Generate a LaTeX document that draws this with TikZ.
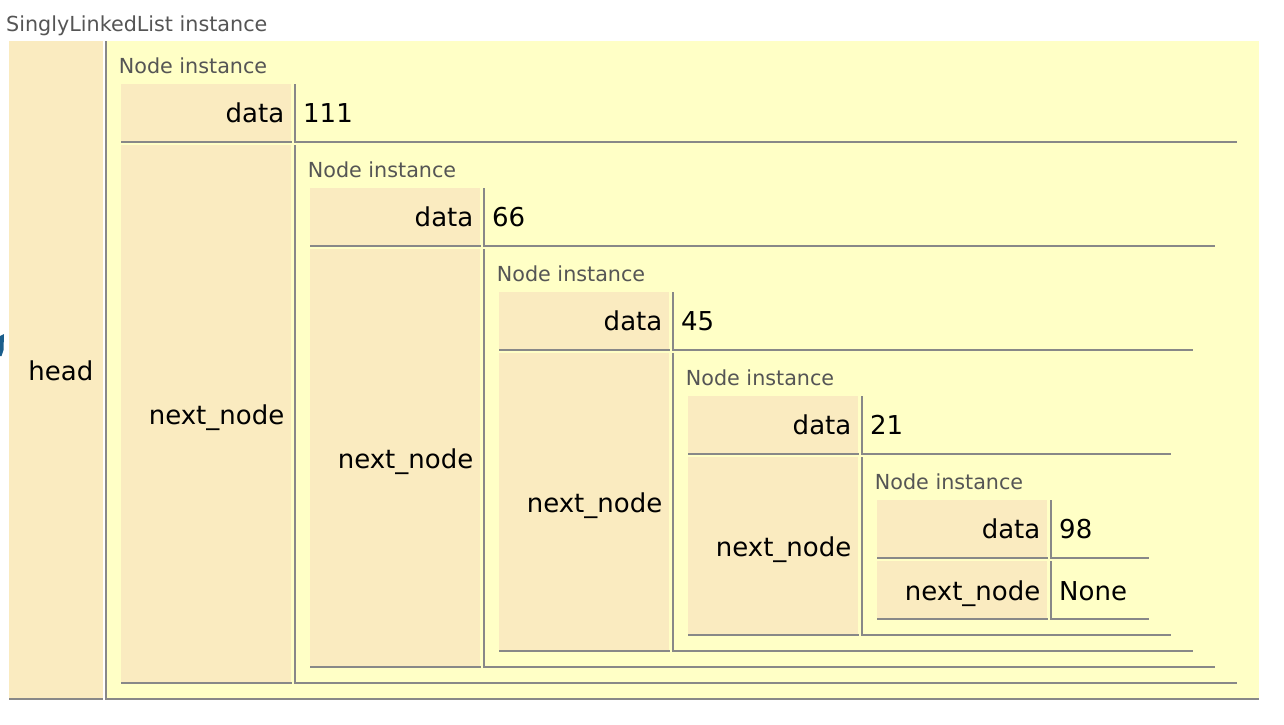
\documentclass[tikz,border=0pt]{standalone}
\usepackage{fontspec}
\setmainfont{DejaVu Sans}
\usepackage{tikz}

\definecolor{keybg}{HTML}{FAEBC0}
\definecolor{valbg}{HTML}{FFFFC6}
\definecolor{rulegray}{HTML}{888888}
\definecolor{capgray}{HTML}{555555}
\definecolor{ptrblue}{HTML}{1B5E8C}

\tikzset{
  keycell/.style={fill=keybg},
  rule/.style={draw=rulegray, line width=2pt},
  keytext/.style={anchor=base east, inner sep=0pt, font=\fontsize{26}{30}\selectfont},
  valtext/.style={anchor=base west, inner sep=0pt, font=\fontsize{26}{30}\selectfont},
  caption/.style={anchor=base west, inner sep=0pt, text=capgray, font=\fontsize{20.7}{24}\selectfont}
}

\begin{document}
\begin{tikzpicture}[x=1pt,y=-1pt]
  \useasboundingbox (0,0) rectangle (1284,724);

  % outer list
  \node[caption] (t0) at (6,31) {SinglyLinkedList instance};
  \fill[valbg] (107,41) rectangle (1259,698);
  \fill[keycell] (9,41) rectangle (103,698);
  \draw[rule] (9,699) -- (103,699);
  \draw[rule] (106,41) |- (1259,699);
  \node[keytext] (h0) at (93.6,380) {head};
  \fill[ptrblue] (0,336) -- (4,334) -- (3.5,350) -- (1.5,356) -- (0,356) -- cycle;

  % nested nodes
  \foreach \i/\val in {0/111,1/66,2/45,3/21,4/98} {
    \pgfmathsetmacro\L{121+189*\i}
    \pgfmathsetmacro\T{84+104*\i}
    \pgfmathsetmacro\R{1237-22*\i}
    \pgfmathsetmacro\B{683-16*\i}
    \pgfmathsetmacro\N{\T+61}
    \pgfmathsetmacro\M{(\N+\B)/2+10}
    \node[caption] (c\i) at (\L-2.3,\T-10.7) {Node instance};
    % data row
    \fill[keycell] (\L,\T) rectangle (\L+170,\T+57);
    \draw[rule] (\L,\T+58) -- (\L+171,\T+58);
    \draw[rule] (\L+174,\T) |- (\R,\T+58);
    \node[keytext] (d\i) at (\L+163.5,\T+38.8) {data};
    \node[valtext] (v\i) at (\L+182,\T+38.8) {\val};
    % next_node row
    \fill[keycell] (\L,\N) rectangle (\L+170,\B-1);
    \draw[rule] (\L,\B) -- (\L+171,\B);
    \draw[rule] (\L+174,\N) |- (\R,\B);
    \node[keytext] (n\i) at (\L+163.5,\M) {next\_node};
  }
  \node[valtext] (none) at (1059,600) {None};

\end{tikzpicture}
\end{document}
